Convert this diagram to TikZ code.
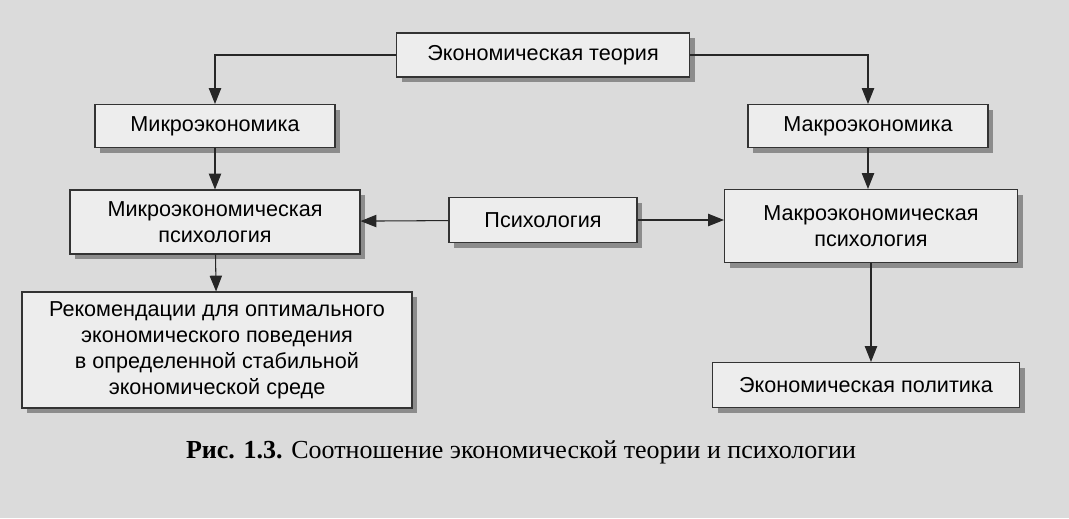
\documentclass[tikz,border=0pt]{standalone}
\usepackage{fontspec}
\setmainfont{Liberation Sans}
\newfontfamily\capfont{Liberation Serif}
\usetikzlibrary{arrows.meta,shadows}
\begin{document}
\begin{tikzpicture}[x=0.02cm,y=-0.02cm,
  box/.style={draw=black!80,fill=black!7,line width=0.6pt,align=center,font=\fontsize{12.3}{14.8}\selectfont,
    inner sep=0pt,drop shadow={shadow xshift=3pt,shadow yshift=-3pt,fill=black!45,opacity=1}},
  arr/.style={-{Triangle[length=9pt,width=7pt]},line width=0.6pt,draw=black!85}]
\fill[black!14] (0,0) rectangle (1069,518);
\useasboundingbox (0,0) rectangle (1069,518);
\node[box,minimum width=293*0.02cm,minimum height=44*0.02cm] (et) at (543,55) {Экономическая теория};
\node[box,minimum width=240*0.02cm,minimum height=43*0.02cm] (mi) at (215,126) {Микроэкономика};
\node[box,minimum width=240*0.02cm,minimum height=43*0.02cm] (ma) at (868,126) {Макроэкономика};
\node[box,minimum width=290*0.02cm,minimum height=64*0.02cm] (mip) at (215,222) {Микроэкономическая\\психология};
\node[box,minimum width=188*0.02cm,minimum height=45*0.02cm] (ps) at (543,220) {Психология};
\node[box,minimum width=293*0.02cm,minimum height=73*0.02cm] (map) at (871,226) {Макроэкономическая\\психология};
\node[box,minimum width=390*0.02cm,minimum height=116*0.02cm] (rec) at (217,350) {Рекомендации для оптимального\\экономического поведения\\в определенной стабильной\\экономической среде};
\node[box,minimum width=307*0.02cm,minimum height=45*0.02cm] (pol) at (866,385) {Экономическая политика};
\node[font=\capfont\fontsize{14.8}{17}\selectfont] (cap) at (521,452) {\textbf{Рис. 1.3.} Соотношение экономической теории и психологии};
\draw[arr] (et.west) -| (mi.north);
\draw[arr] (et.east) -| (ma.north);
\draw[arr] (mi) -- (mip);
\draw[arr] (ma.south) -- (ma.south|-map.north);
\draw[arr] (mip) -- (rec);
\draw[arr] (ps) -- (mip);
\draw[arr] (ps) -- (map.west|-ps);
\draw[arr] (map.south) -- (map.south|-pol.north);
\end{tikzpicture}
\end{document}
